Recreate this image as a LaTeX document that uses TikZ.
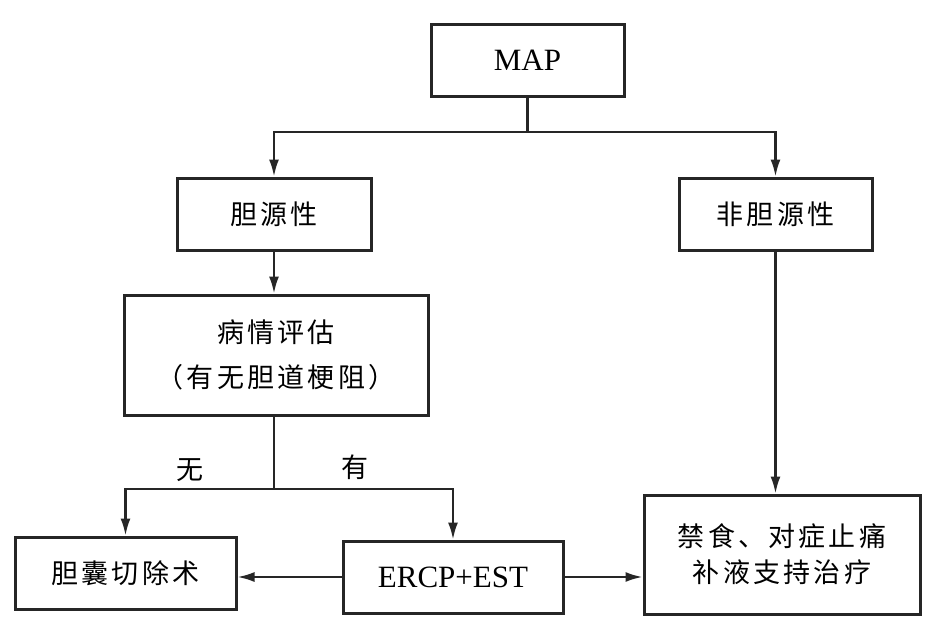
\documentclass[tikz,border=0pt]{standalone}
\usepackage{fontspec}
\setmainfont{Liberation Serif}
\newfontfamily\cjk[LetterSpace=12]{Noto Sans CJK SC}
\usetikzlibrary{arrows.meta}
\begin{document}
\begin{tikzpicture}[x=1pt,y=1pt,
  box/.style={draw=black!85, line width=3pt, inner sep=0pt, align=center},
  conn/.style={draw=black!85, line width=2.2pt, -{Latex[length=17pt,width=10pt]}},
  plain/.style={draw=black!85, line width=2.2pt},
  zh/.style={font=\cjk\fontsize{27}{45}\selectfont},
  lat/.style={font=\fontsize{31}{36}\selectfont}]
\useasboundingbox (0,0) rectangle (933,-638);
\node[box, lat, minimum width=193, minimum height=72] (map) at (527.5,-60) {MAP};
\node[box, zh, minimum width=194, minimum height=72] (gall) at (274,-214) {胆源性};
\node[box, zh, minimum width=193, minimum height=72] (nongall) at (775.5,-214) {非胆源性};
\node[box, zh, minimum width=304, minimum height=120] (assess) at (276,-355) {病情评估\\（有无胆道梗阻）};
\node[box, zh, minimum width=221, minimum height=72] (chole) at (125.5,-573) {胆囊切除术};
\node[box, lat, minimum width=220, minimum height=72] (ercp) at (453,-577) {ERCP+EST};
\node[box, font=\cjk\fontsize{27}{36}\selectfont, minimum width=276, minimum height=119] (treat) at (782,-554.5) {禁食、对症止痛\\补液支持治疗};
\coordinate (split) at (527.5,-132);
\coordinate (split2) at (274,-489);
\draw[plain] (map.south) -- (split);
\draw[conn] (split) -| (gall.north);
\draw[conn] (split) -| (nongall.north);
\draw[conn] (gall.south) -- (gall.south |- assess.north);
\draw[plain] (gall.south |- assess.south) -- (split2);
\draw[conn] (split2) -| (chole.north);
\draw[conn] (split2) -| (ercp.north);
\draw[conn] (nongall.south) -- (nongall.south |- treat.north);
\draw[conn] (ercp.west) -- (ercp.west -| chole.east);
\draw[conn] (ercp.east) -- (ercp.east -| treat.west);
\node[zh] (no) at (190,-470) {无};
\node[zh] (yes) at (355,-467) {有};
\end{tikzpicture}
\end{document}
